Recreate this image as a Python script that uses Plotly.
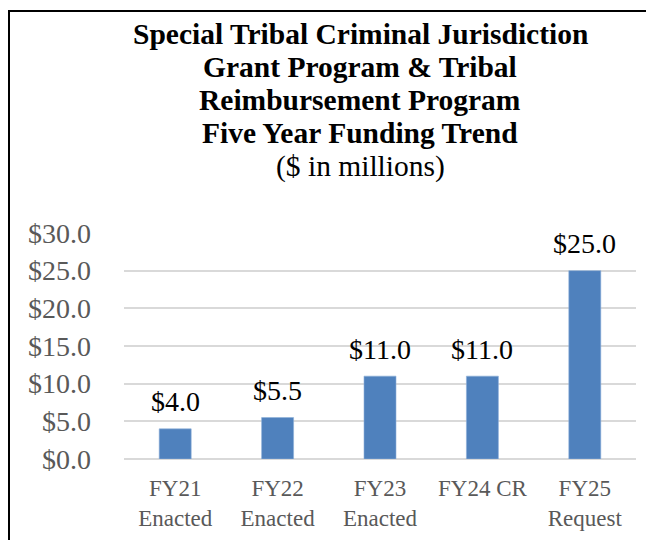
import plotly.graph_objects as go

categories = ["FY21<br>Enacted", "FY22<br>Enacted", "FY23<br>Enacted", "FY24 CR", "FY25<br>Request"]
values = [4.0, 5.5, 11.0, 11.0, 25.0]
title_lines = [
    "<b>Special Tribal Criminal Jurisdiction</b>",
    "<b>Grant Program &amp; Tribal</b>",
    "<b>Reimbursement Program</b>",
    "<b>Five Year Funding Trend</b>",
    "($ in millions)",
]
y_ticks = [0, 5, 10, 15, 20, 25, 30]
y_tick_text = [f"${v:.1f}" for v in y_ticks]

W, H = 654, 540
OFF = 8  # page offset of the figure inside the browser window
# target plot area in window pixels
PX0, PX1 = 124, 636
PY0, PY1 = 233, 459
L = PX0 - OFF
T = PY0 - OFF
R = W - L - (PX1 - PX0)
B = H - T - (PY1 - PY0)
plot_w = PX1 - PX0
plot_h = PY1 - PY0


def px_to_paper_x(px):
    return (px - PX0) / plot_w


def px_to_paper_y(py):
    return (PY1 - py) / plot_h


FONT = "Liberation Serif, Times New Roman, serif"

fig = go.Figure()
fig.add_trace(go.Bar(
    x=categories,
    y=values,
    marker=dict(color="#4F81BD", line=dict(color="#8DB0DA", width=0.6)),
    hoverinfo="skip",
))

annotations = []
for c, v in zip(categories, values):
    annotations.append(dict(
        x=c, y=v, xref="x", yref="y",
        text=f"${v:.1f}", showarrow=False,
        yanchor="middle", yshift=27,
        font=dict(family=FONT, size=28, color="#000000"),
    ))

title_centers = [34, 67, 100, 133, 166]
for line, cy in zip(title_lines, title_centers):
    annotations.append(dict(
        x=px_to_paper_x(360), y=px_to_paper_y(cy), xref="paper", yref="paper",
        text=line, showarrow=False, xanchor="center", yanchor="middle",
        font=dict(family=FONT, size=29.5, color="#000000"),
    ))

shapes = [
    dict(type="line", xref="paper", yref="paper",
         x0=px_to_paper_x(9), x1=px_to_paper_x(9),
         y0=px_to_paper_y(11), y1=px_to_paper_y(560),
         line=dict(color="#000000", width=2)),
    dict(type="line", xref="paper", yref="paper",
         x0=px_to_paper_x(8), x1=px_to_paper_x(670),
         y0=px_to_paper_y(11), y1=px_to_paper_y(11),
         line=dict(color="#000000", width=2)),
]

fig.update_layout(
    width=W, height=H,
    margin=dict(l=L, r=R, t=T, b=B, pad=0),
    paper_bgcolor="white", plot_bgcolor="white",
    bargap=0.6875,
    showlegend=False,
    annotations=annotations,
    shapes=shapes,
    font=dict(family=FONT),
    xaxis=dict(
        showgrid=False, showline=False, zeroline=False,
        tickfont=dict(family=FONT, size=23, color="#595959"),
        ticks="", ticklabelstandoff=13,
    ),
    yaxis=dict(
        range=[0, 30], tickvals=y_ticks, ticktext=y_tick_text,
        showgrid=True, gridcolor="#D9D9D9", gridwidth=1.5,
        zeroline=True, zerolinecolor="#D9D9D9", zerolinewidth=1.5,
        showline=False, ticks="", ticklabelstandoff=32,
        tickfont=dict(family=FONT, size=28, color="#595959"),
    ),
)

fig.write_html("out.html")
